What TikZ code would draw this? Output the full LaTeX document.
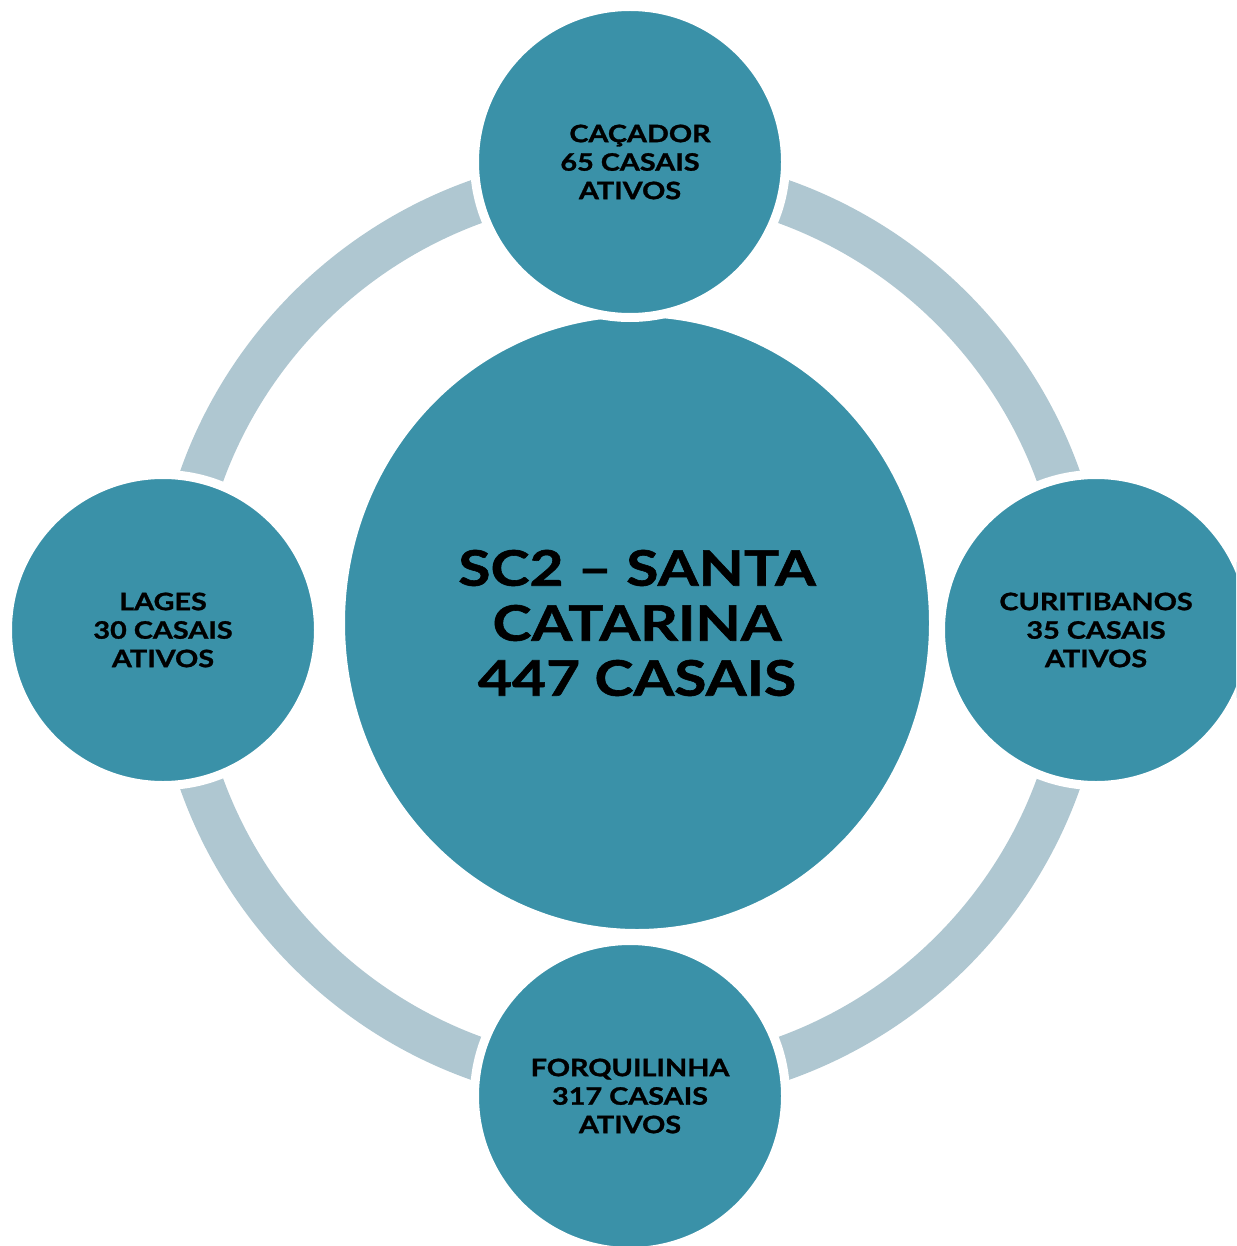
\documentclass[tikz,border=0pt]{standalone}
\usepackage{fontspec}
\setmainfont{Lato}[FakeStretch=1.2, BoldFeatures={FakeBold=1.2}]
\usetikzlibrary{shapes.geometric}
\definecolor{tealfill}{RGB}{58,145,168}
\definecolor{ringc}{RGB}{175,199,209}
\begin{document}
\begin{tikzpicture}[x=1pt,y=-1pt,
  bubble/.style={circle, fill=tealfill, draw=white, line width=9pt, minimum size=311pt, inner sep=0pt, align=center, text=black, font=\fontsize{24}{28.5}\selectfont\bfseries},
  hub/.style={ellipse, fill=tealfill, draw=white, line width=8pt, minimum width=592pt, minimum height=620pt, inner sep=0pt, align=center, text=black, font=\fontsize{49}{55}\selectfont\bfseries},
  ringband/.style={draw=ringc, line width=44pt}]
\useasboundingbox (0,0) rectangle (1236,1246);
\clip (0,0) rectangle (1236,1246);
\coordinate (o) at (630,630);
\draw[ringband] (o) circle[radius=455pt];
\node[hub] (hub) at (637,623) {SC2 – SANTA\\CATARINA\\447 CASAIS};
\node[bubble] (cacador) at (630,162) {\hspace*{20pt}CAÇADOR\\65 CASAIS\\ATIVOS};
\node[bubble] (curitibanos) at (1096,630) {CURITIBANOS\\35 CASAIS\\ATIVOS};
\node[bubble] (forquilinha) at (630,1096) {FORQUILINHA\\317 CASAIS\\ATIVOS};
\node[bubble] (lages) at (163,630) {LAGES\\30 CASAIS\\ATIVOS};
\end{tikzpicture}
\end{document}
